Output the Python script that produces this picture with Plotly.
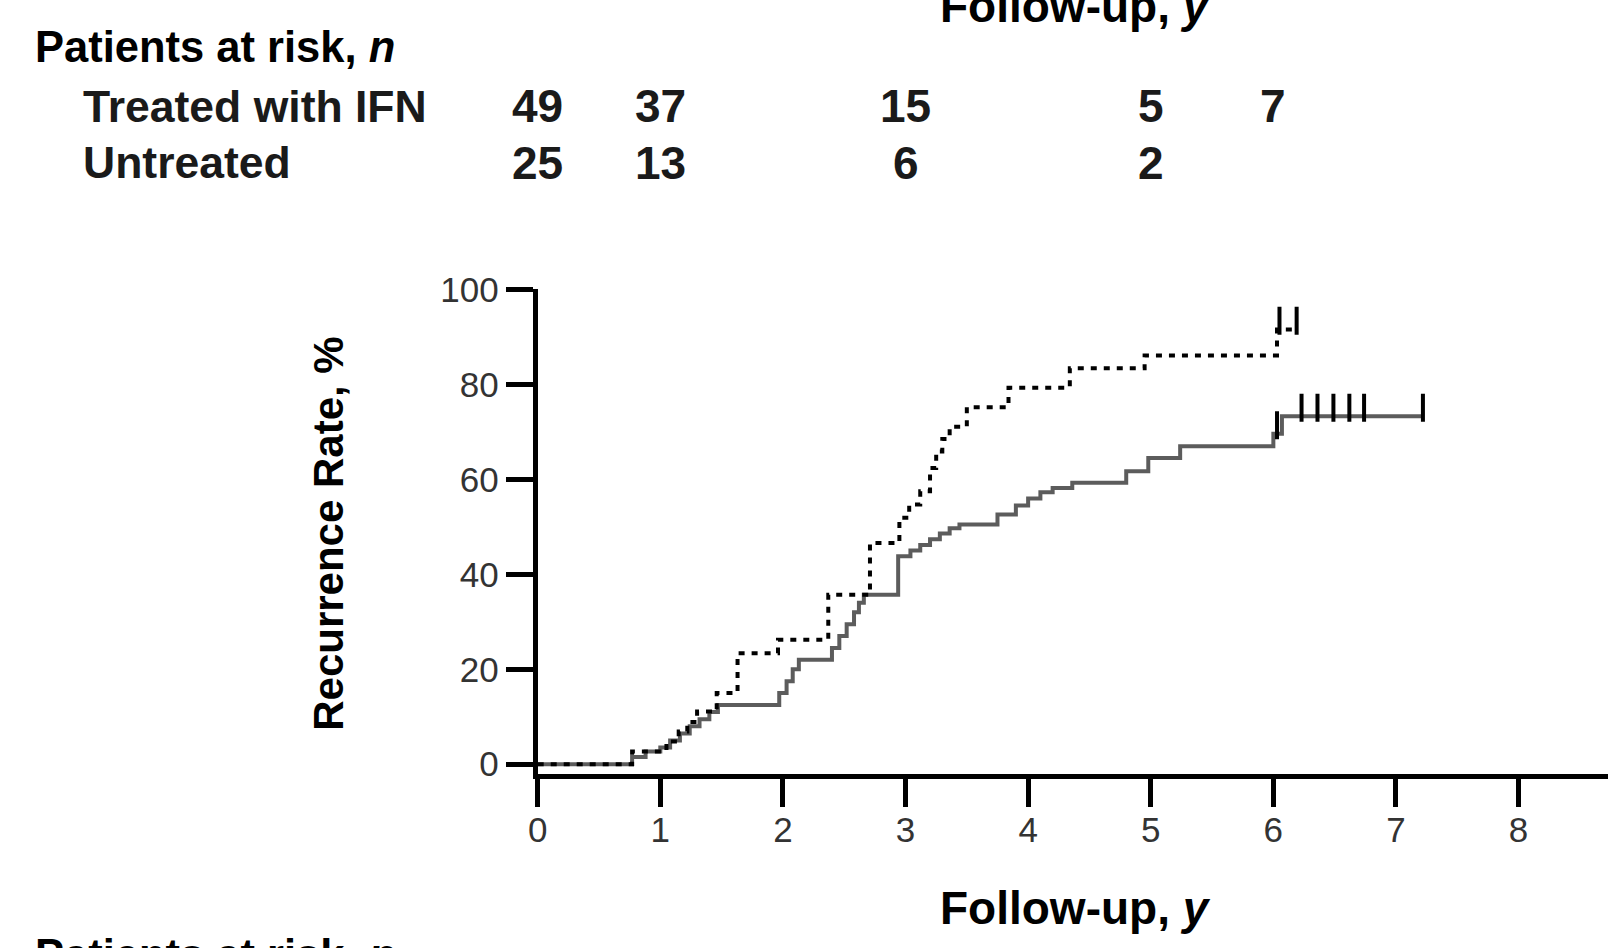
import plotly.graph_objects as go

# Cumulative recurrence (%) by follow-up year, step curves
ifn_time = [0, 0.77, 0.88, 1.0, 1.08, 1.16, 1.24, 1.32, 1.40, 1.47, 1.97, 2.03, 2.08,
            2.13, 2.40, 2.46, 2.52, 2.58, 2.62, 2.66, 2.94, 3.04, 3.12, 3.20, 3.28,
            3.36, 3.44, 3.75, 3.90, 4.00, 4.10, 4.20, 4.36, 4.80, 4.98, 5.24, 6.00,
            6.07, 7.22]
ifn_rate = [0, 1.5, 2.7, 3.5, 5.0, 6.5, 8.0, 9.5, 11.0, 12.5, 15.0, 17.5, 20.0,
            22.0, 24.5, 27.0, 29.5, 32.0, 34.0, 35.7, 43.8, 45.0, 46.2, 47.4, 48.6,
            49.7, 50.5, 52.6, 54.5, 56.0, 57.3, 58.2, 59.3, 61.7, 64.5, 67.0, 69.6,
            73.3, 73.3]
ifn_censor_time = [6.03, 6.23, 6.36, 6.49, 6.62, 6.74, 7.22]
ifn_censor_rate = [69.6, 73.3, 73.3, 73.3, 73.3, 73.3, 73.3]

untreated_time = [0, 0.77, 1.05, 1.15, 1.22, 1.30, 1.46, 1.63, 1.96, 2.37, 2.71,
                  2.95, 3.03, 3.12, 3.20, 3.25, 3.30, 3.36, 3.50, 3.84, 4.34, 4.95,
                  6.03, 6.19]
untreated_rate = [0, 2.7, 4.8, 6.9, 8.9, 11.1, 15.0, 23.4, 26.2, 35.7, 46.6,
                  51.9, 54.7, 57.5, 62.4, 65.9, 68.5, 71.1, 75.2, 79.3, 83.4, 86.1,
                  91.6, 91.6]
untreated_censor_time = [6.05, 6.19]
untreated_censor_rate = [91.6, 91.6]

# Patients at risk table
risk_years_ifn = [0, 1, 3, 5, 6]
risk_ifn = [49, 37, 15, 5, 7]
risk_years_untreated = [0, 1, 3, 5]
risk_untreated = [25, 13, 6, 2]

x_ticks = [0, 1, 2, 3, 4, 5, 6, 7, 8]
y_ticks = [0, 20, 40, 60, 80, 100]

W, H = 1608, 948
FONT = "Liberation Sans, Arial, sans-serif"
SOLID = "#5c5c5c"
TICK_LIFT = 1.8  # censor ticks sit mostly above the curve

fig = go.Figure()

fig.add_trace(go.Scatter(
    x=ifn_time, y=ifn_rate, mode="lines", line_shape="hv",
    line=dict(color=SOLID, width=4), name="Treated with IFN", showlegend=False))
fig.add_trace(go.Scatter(
    x=untreated_time, y=untreated_rate, mode="lines", line_shape="hv",
    line=dict(color="black", width=4, dash="6px,7px"), name="Untreated",
    showlegend=False))
fig.add_trace(go.Scatter(
    x=ifn_censor_time, y=[r + TICK_LIFT for r in ifn_censor_rate], mode="markers",
    marker=dict(symbol="line-ns", size=20, line=dict(color="black", width=4)),
    showlegend=False))
fig.add_trace(go.Scatter(
    x=untreated_censor_time, y=[r + TICK_LIFT for r in untreated_censor_rate],
    mode="markers",
    marker=dict(symbol="line-ns", size=20, line=dict(color="black", width=4)),
    showlegend=False))

x0_px, x8_px = 531, 1518
x_unit = (x8_px - x0_px) / 8
x_max = (W - x0_px) / x_unit
y_bottom_px, y_top_px = 778, 278

fig.update_xaxes(
    range=[0, x_max], domain=[x0_px / W, 1],
    showline=True, linecolor="black", linewidth=5,
    ticks="outside", ticklen=28, tickwidth=5, tickcolor="black",
    tickvals=x_ticks, ticktext=[str(v) for v in x_ticks],
    tickfont=dict(family=FONT, size=35, color="#333333"),
    ticklabelstandoff=-7,
    showgrid=False, zeroline=False)
fig.update_yaxes(
    range=[-2.1, 100], domain=[(H - y_bottom_px) / H, (H - y_top_px) / H],
    showline=True, linecolor="black", linewidth=5,
    ticks="outside", ticklen=27, tickwidth=5, tickcolor="black",
    tickvals=y_ticks, ticktext=[str(v) for v in y_ticks],
    tickfont=dict(family=FONT, size=35, color="#333333"),
    showgrid=False, zeroline=False)

ann = []


def px_y(py):
    return 1 - py / H


# titles
ann.append(dict(text="<b>Follow-up, <i>y</i></b>", xref="paper", yref="paper",
                x=1072 / W, y=px_y(916), xanchor="center", yanchor="middle",
                showarrow=False, font=dict(family=FONT, size=46, color="black")))
ann.append(dict(text="<b>Follow-up, <i>y</i></b>", xref="paper", yref="paper",
                x=1072 / W, y=px_y(-14), xanchor="center", yanchor="middle",
                showarrow=False, font=dict(family=FONT, size=46, color="black")))
ann.append(dict(text="<b>Recurrence Rate, %</b>", xref="paper", yref="paper",
                x=321 / W, y=px_y(530), xanchor="center", yanchor="middle",
                textangle=-90, showarrow=False,
                font=dict(family=FONT, size=42, color="black")))

# risk table
ann.append(dict(text="<b>Patients at risk, <i>n</i></b>", xref="paper", yref="paper",
                x=23 / W, y=px_y(28), xanchor="left", yanchor="middle",
                showarrow=False, font=dict(family=FONT, size=43.5, color="black")))
ann.append(dict(text="<b>Patients at risk, <i>n</i></b>", xref="paper", yref="paper",
                x=23 / W, y=px_y(964), xanchor="left", yanchor="middle",
                showarrow=False, font=dict(family=FONT, size=43.5, color="black")))
ann.append(dict(text="<b>Treated with IFN</b>", xref="paper", yref="paper",
                x=71 / W, y=px_y(89), xanchor="left", yanchor="middle",
                showarrow=False, font=dict(family=FONT, size=44.5, color="#1a1a1a")))
ann.append(dict(text="<b>Untreated</b>", xref="paper", yref="paper",
                x=71 / W, y=px_y(147), xanchor="left", yanchor="middle",
                showarrow=False, font=dict(family=FONT, size=44.5, color="#1a1a1a")))
for t, n in zip(risk_years_ifn, risk_ifn):
    ann.append(dict(text=f"<b>{n}</b>", xref="x", yref="paper", x=t, y=px_y(89),
                    xanchor="center", yanchor="middle", showarrow=False,
                    font=dict(family=FONT, size=46, color="#1a1a1a")))
for t, n in zip(risk_years_untreated, risk_untreated):
    ann.append(dict(text=f"<b>{n}</b>", xref="x", yref="paper", x=t, y=px_y(147),
                    xanchor="center", yanchor="middle", showarrow=False,
                    font=dict(family=FONT, size=46, color="#1a1a1a")))

fig.update_layout(
    width=W, height=H, margin=dict(l=0, r=0, t=0, b=0),
    paper_bgcolor="white", plot_bgcolor="white",
    showlegend=False, annotations=ann)

fig.write_html("out.html")
